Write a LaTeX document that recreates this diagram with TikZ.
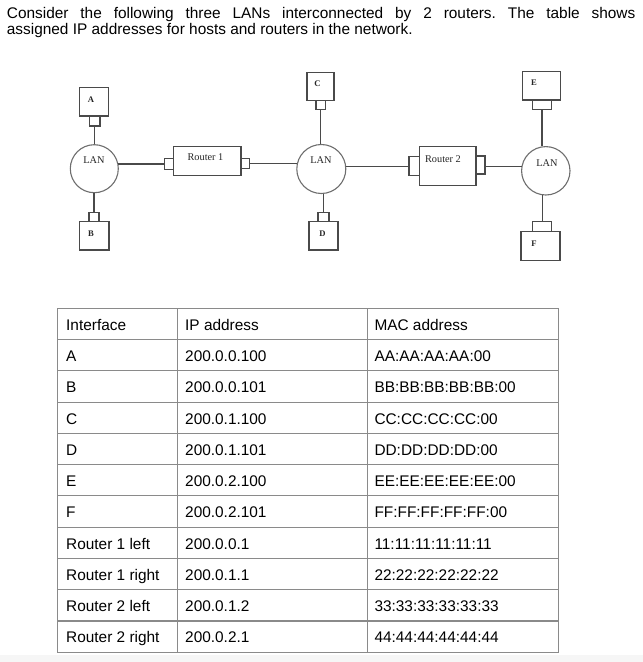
\documentclass[tikz,border=0pt]{standalone}
\usepackage{fontspec}
\setmainfont{Liberation Sans}
\newfontfamily\serf{Liberation Serif}
\frenchspacing
\definecolor{dline}{HTML}{4A4A4A}
\definecolor{cline}{HTML}{6E6E6E}
\definecolor{tline}{HTML}{8A8A8A}
\tikzset{
  box/.style={draw=dline, line width=1.1pt, fill=white, inner sep=0pt},
  lan/.style={draw=cline, line width=1.1pt, circle, inner sep=0pt, fill=white},
  wire/.style={draw=dline, line width=1.1pt},
  dlabel/.style={inner sep=0pt, font=\serf\fontsize{10.3}{11}\selectfont, text=black!85},
  hlabel/.style={inner sep=0pt, font=\serf\bfseries\fontsize{8.6}{9}\selectfont, text=black!85},
  cell/.style={anchor=base west, inner sep=0pt, font=\fontsize{15.4}{16}\selectfont},
  grid/.style={draw=tline, line width=1.1pt},
}
\begin{document}
\begin{tikzpicture}[x=1pt,y=-1pt]
\useasboundingbox (0,0) rectangle (643,662);
\fill[gray!7] (0,655) rectangle (643,662);
% header
\node[cell] (h1) at (6.7,18.7) {\makebox[628.5pt][s]{Consider the following three LANs interconnected by 2 routers. The table shows}};
\node[cell] (h2) at (6.7,34.3) {assigned IP addresses for hosts and routers in the network.};

% LANs
\node[lan, minimum size=48pt] (L1) at (94.3,168.7) {};
\node[lan, minimum size=49pt] (L2) at (321.3,169) {};
\node[lan, minimum size=48.4pt] (L3) at (545.8,170.8) {};

% hosts
\node[box, minimum width=29.4pt, minimum height=28.7pt] (A) at (94,101.65) {};
\node[box, minimum width=10.7pt, minimum height=10pt] (Ap) at (94.65,121) {};
\node[box, minimum width=10pt, minimum height=9pt] (Bp) at (94,217.2) {};
\node[box, minimum width=29.7pt, minimum height=28.3pt] (B) at (94.15,235.85) {};
\node[box, minimum width=27pt, minimum height=28.4pt] (C) at (320.5,86.5) {};
\node[box, minimum width=9.5pt, minimum height=8.6pt] (Cp) at (320.75,105) {};
\node[box, minimum width=11pt, minimum height=9pt] (Dp) at (323.5,217.2) {};
\node[box, minimum width=29pt, minimum height=28.3pt] (D) at (323.5,235.85) {};
\node[box, minimum width=38.4pt, minimum height=28.3pt] (E) at (541.5,85.85) {};
\node[box, minimum width=19.4pt, minimum height=9.3pt] (Ep) at (542,104.65) {};
\node[box, minimum width=19pt, minimum height=10pt] (Fp) at (542.2,226.7) {};
\node[box, minimum width=39pt, minimum height=29pt] (F) at (540.5,246.2) {};

% routers
\node[box, minimum width=67.7pt, minimum height=28.6pt] (R1) at (207.15,161) {};
\node[box, minimum width=9pt, minimum height=10.6pt] (R1l) at (168.8,164) {};
\node[box, minimum width=8.3pt, minimum height=10pt] (R1r) at (245.15,163.7) {};
\node[box, minimum width=56.7pt, minimum height=38.6pt] (R2) at (447.65,166) {};
\node[box, minimum width=10.3pt, minimum height=18.6pt] (R2l) at (414.15,166) {};
\node[box, minimum width=9pt, minimum height=18pt] (R2r) at (480.5,165) {};

% wires
\draw[wire] (Ap.south) -- (Ap.south |- L1.north);
\draw[wire] (Bp.north) -- (Bp.north |- L1.south);
\draw[wire] (Cp.south) -- (Cp.south |- L2.north);
\draw[wire] (Dp.north) -- (Dp.north |- L2.south);
\draw[wire] (Ep.south) -- ([yshift=-0.3pt]Ep.south |- L3.north);
\draw[wire] (Fp.north) -- ([yshift=0.3pt]Fp.north |- L3.south);
\draw[wire] (R1l.west) -- ([xshift=-0.4pt]R1l.west -| L1.east);
\draw[wire] (R1r.east) -- ([xshift=0.4pt]R1r.east -| L2.west);
\coordinate (w3) at (345.7,166.7);
\coordinate (w4) at (522,166.7);
\draw[wire] (w3) -- (w3 -| R2l.west);
\draw[wire] (w4 -| R2r.east) -- (w4);

% labels
\node[dlabel] (tR1) at (205.5,157.5) {Router 1};
\node[dlabel] (tR2) at (443,159) {Router 2};
\node[dlabel] (tL1) at (94,160) {LAN};
\node[dlabel] (tL2) at (321,160.5) {LAN};
\node[dlabel] (tL3) at (547,163.5) {LAN};
\node[hlabel] (tA) at (91,99.5) {A};
\node[hlabel] (tB) at (91,233.5) {B};
\node[hlabel] (tC) at (317.5,83.5) {C};
\node[hlabel] (tD) at (322.5,233.5) {D};
\node[hlabel] (tE) at (534,83) {E};
\node[hlabel] (tF) at (534,244) {F};

% table
\def\rowh{31.27}
\foreach \i in {1,...,10} {
  \draw[grid] (57.3,308.3+\i*\rowh) -- (558.3,308.3+\i*\rowh);
}
\draw[grid] (57.3,308.3) rectangle (558.3,652.3);
\draw[grid] (177.7,308.3) -- (177.7,652.3);
\draw[grid] (367.3,308.3) -- (367.3,652.3);
\foreach \i/\a/\b/\c in {
  0/Interface/IP address/MAC address,
  1/A/200.0.0.100/AA:AA:AA:AA:00,
  2/B/200.0.0.101/BB:BB:BB:BB:BB:00,
  3/C/200.0.1.100/CC:CC:CC:CC:00,
  4/D/200.0.1.101/DD:DD:DD:DD:00,
  5/E/200.0.2.100/EE:EE:EE:EE:EE:00,
  6/F/200.0.2.101/FF:FF:FF:FF:FF:00,
  7/Router 1 left/200.0.0.1/11:11:11:11:11:11,
  8/Router 1 right/200.0.1.1/22:22:22:22:22:22,
  9/Router 2 left/200.0.1.2/33:33:33:33:33:33,
  10/Router 2 right/200.0.2.1/44:44:44:44:44:44} {
  \node[cell] (t\i a) at (66,308.3+\i*\rowh+\rowh/2+6.3) {\a};
  \node[cell] (t\i b) at (185,308.3+\i*\rowh+\rowh/2+6.3) {\b};
  \node[cell] (t\i c) at (374.3,308.3+\i*\rowh+\rowh/2+6.3) {\c};
}
\end{tikzpicture}
\end{document}
